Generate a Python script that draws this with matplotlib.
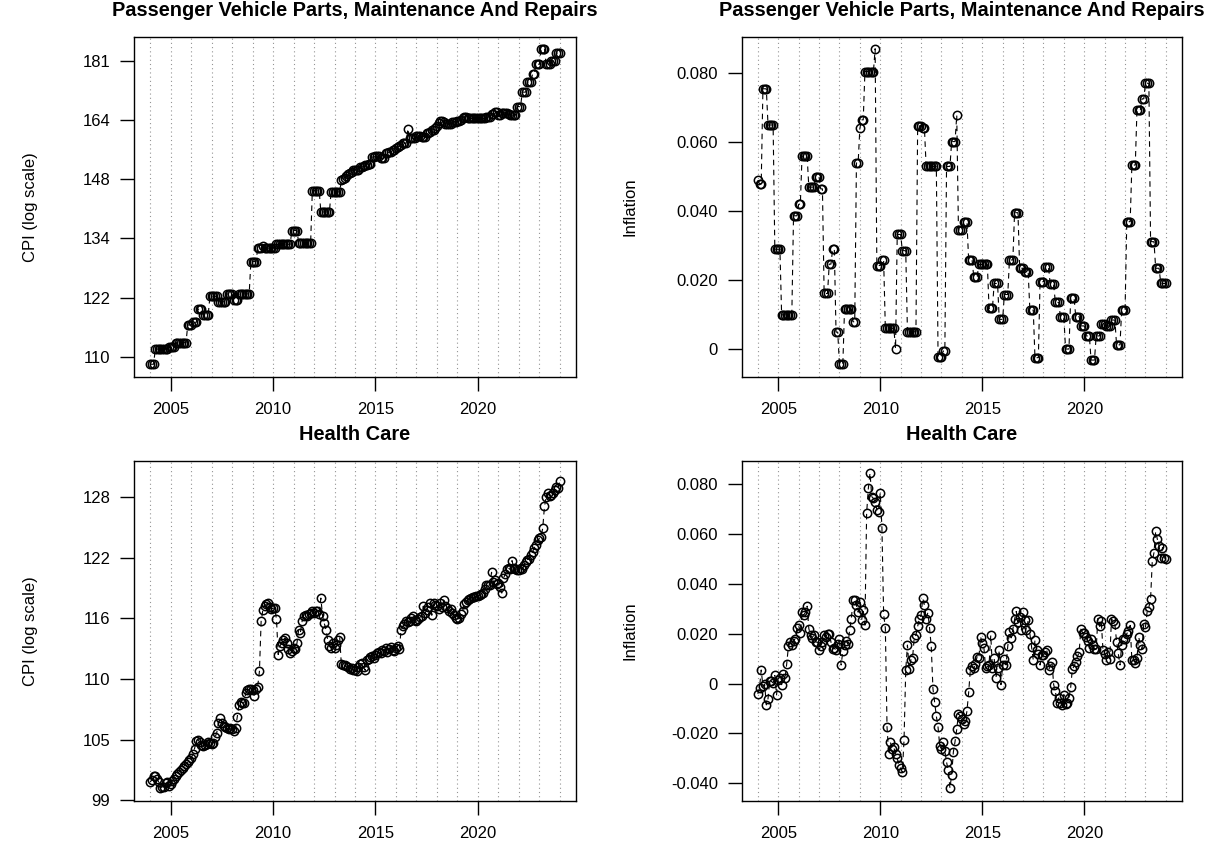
import numpy as np
import matplotlib
matplotlib.use("Agg")
import matplotlib.pyplot as plt
from matplotlib.ticker import FixedLocator, NullLocator

plt.rcParams['font.family'] = ['Liberation Sans', 'DejaVu Sans']

# monthly observations, Jan 2004 .. Jan 2024
start_year = 2004

parts_cpi = [
    108.7, 108.7, 108.7, 111.5, 111.5, 111.5, 111.5, 111.5, 111.5, 111.5, 111.5, 111.8,
    111.8, 111.8, 111.8, 112.7, 112.7, 112.7, 112.7, 112.7, 112.7, 112.7, 116.1, 116.1,
    116.1, 116.6, 116.6, 116.6, 119.2, 119.2, 119.2, 118.1, 118.1, 118.1, 118.1, 121.8,
    121.8, 121.8, 121.8, 121.8, 120.7, 120.7, 120.7, 120.7, 120.7, 122.3, 122.3, 122.3,
    122.3, 121.1, 121.1, 121.1, 122.3, 122.3, 122.3, 122.3, 122.3, 122.3, 122.3, 129.1,
    129.1, 129.1, 129.1, 132.0, 132.0, 132.0, 132.6, 132.0, 132.0, 132.0, 132.0, 132.0,
    132.0, 132.0, 132.9, 132.9, 132.9, 132.9, 132.9, 132.9, 132.9, 132.9, 132.9, 136.0,
    136.0, 136.0, 136.0, 133.2, 133.2, 133.2, 133.2, 133.2, 133.2, 133.2, 133.2, 145.4,
    145.4, 145.4, 145.4, 145.4, 140.3, 140.3, 140.3, 140.3, 140.3, 140.3, 145.1, 145.1,
    145.1, 145.1, 145.1, 145.1, 147.9, 148.3, 148.6, 149.0, 149.4, 149.7, 150.1, 150.5,
    150.5, 150.5, 150.5, 151.4, 151.4, 151.6, 151.8, 151.8, 152.0, 152.0, 153.8, 153.8,
    154.0, 154.0, 154.0, 153.5, 153.5, 153.5, 154.8, 154.8, 155.2, 155.2, 155.6, 155.6,
    156.1, 156.4, 156.7, 157.0, 157.4, 157.4, 157.4, 161.3, 158.7, 158.7, 158.7, 158.7,
    159.4, 159.4, 159.4, 159.2, 159.2, 159.2, 160.1, 160.1, 160.5, 161.0, 161.0, 161.5,
    162.0, 162.8, 163.5, 163.5, 163.0, 162.5, 162.5, 162.6, 162.6, 163.0, 163.2, 163.2,
    163.5, 163.5, 163.8, 164.1, 164.4, 164.4, 164.1, 164.1, 164.1, 164.1, 164.1, 164.1,
    164.1, 164.1, 164.1, 164.1, 164.1, 164.4, 164.4, 164.4, 165.3, 165.3, 166.0, 166.0,
    165.1, 165.1, 165.7, 165.7, 165.7, 165.7, 165.3, 165.0, 165.0, 165.0, 165.0, 167.4,
    167.4, 167.4, 171.5, 171.5, 171.5, 174.4, 174.4, 174.4, 176.7, 176.7, 179.7, 179.7,
    179.7, 184.4, 184.4, 184.4, 179.7, 179.7, 179.7, 180.7, 180.7, 180.7, 183.1, 183.1,
    183.1,
]

parts_infl = [
    0.049, 0.048, 0.048, 0.0755, 0.0755, 0.0755, 0.065, 0.065, 0.065, 0.065, 0.029, 0.029,
    0.029, 0.029, 0.010, 0.010, 0.010, 0.010, 0.010, 0.010, 0.010, 0.0387, 0.0387, 0.0387,
    0.042, 0.042, 0.056, 0.056, 0.056, 0.056, 0.047, 0.047, 0.047, 0.047, 0.050, 0.050,
    0.050, 0.0465, 0.0465, 0.0162, 0.0162, 0.0162, 0.0247, 0.0247, 0.029, 0.029, 0.005, 0.005,
    -0.0043, -0.0043, -0.0043, 0.0117, 0.0117, 0.0117, 0.0117, 0.0117, 0.008, 0.008, 0.054, 0.054,
    0.064, 0.0665, 0.0665, 0.0805, 0.0805, 0.0805, 0.0805, 0.0805, 0.0805, 0.0871, 0.0243, 0.0243,
    0.0243, 0.0259, 0.0259, 0.0061, 0.0061, 0.0061, 0.0061, 0.0061, 0.0061, 0.0002, 0.0333, 0.0333,
    0.0333, 0.0286, 0.0286, 0.0286, 0.0051, 0.0051, 0.0051, 0.0051, 0.0051, 0.0051, 0.0647, 0.0647,
    0.0647, 0.064, 0.064, 0.053, 0.053, 0.053, 0.053, 0.053, 0.053, 0.053, -0.0021, -0.0021,
    -0.0021, -0.0005, -0.0005, 0.053, 0.053, 0.053, 0.0602, 0.0602, 0.0602, 0.0679, 0.0346, 0.0346,
    0.0346, 0.0368, 0.0368, 0.0368, 0.0259, 0.0259, 0.0259, 0.0211, 0.0211, 0.0211, 0.0246, 0.0246,
    0.0246, 0.0246, 0.0246, 0.0246, 0.0119, 0.0119, 0.0119, 0.0191, 0.0191, 0.0191, 0.0087, 0.0087,
    0.0087, 0.0159, 0.0159, 0.0159, 0.0259, 0.0259, 0.0259, 0.0396, 0.0396, 0.0396, 0.0235, 0.0235,
    0.0235, 0.0225, 0.0225, 0.0225, 0.0114, 0.0114, 0.0114, -0.0024, -0.0024, -0.0024, 0.0196, 0.0196,
    0.0196, 0.0238, 0.0238, 0.0238, 0.0188, 0.0188, 0.0188, 0.0136, 0.0136, 0.0136, 0.0093, 0.0093,
    0.0093, 0.0001, 0.0001, 0.0001, 0.0148, 0.0148, 0.0148, 0.0095, 0.0095, 0.0095, 0.0068, 0.0068,
    0.0068, 0.0039, 0.0039, 0.0039, -0.0031, -0.0031, -0.0031, 0.0039, 0.0039, 0.0039, 0.0073, 0.0073,
    0.0073, 0.0068, 0.0068, 0.0068, 0.0085, 0.0085, 0.0085, 0.0013, 0.0013, 0.0013, 0.0114, 0.0114,
    0.0114, 0.037, 0.037, 0.037, 0.0534, 0.0534, 0.0534, 0.0694, 0.0694, 0.0694, 0.0726, 0.0726,
    0.0771, 0.0771, 0.0771, 0.0312, 0.0312, 0.0312, 0.0235, 0.0235, 0.0235, 0.0191, 0.0191, 0.0191,
    0.0191,
]

health_cpi = [
    100.9, 101.1, 101.4, 101.4, 101.2, 100.9, 100.4, 100.5, 100.5, 100.8, 100.9, 100.6,
    100.7, 101.0, 101.2, 101.4, 101.6, 101.8, 101.9, 102.1, 102.3, 102.5, 102.6, 102.8,
    103.0, 103.3, 103.8, 104.5, 104.6, 104.4, 104.1, 104.0, 104.1, 104.2, 104.4, 104.3,
    104.2, 104.3, 104.8, 105.2, 106.1, 106.5, 106.1, 105.8, 105.7, 105.6, 105.5, 105.6,
    105.5, 105.4, 105.6, 106.6, 107.7, 108.0, 107.9, 107.9, 108.8, 109.1, 109.2, 109.2,
    109.1, 108.5, 109.2, 109.4, 110.8, 115.6, 116.7, 117.1, 117.3, 117.4, 117.0, 116.8,
    116.9, 116.9, 115.8, 112.4, 113.2, 113.5, 113.8, 114.0, 113.5, 112.9, 112.5, 112.7,
    113.0, 112.9, 113.5, 114.8, 114.5, 115.6, 116.1, 116.2, 116.1, 116.3, 116.4, 116.6,
    116.4, 116.6, 116.6, 116.3, 117.9, 116.1, 115.4, 114.8, 113.8, 113.2, 113.0, 113.5,
    113.0, 113.3, 113.8, 114.1, 111.5, 111.4, 111.4, 111.3, 111.2, 111.0, 111.1, 110.9,
    110.9, 110.8, 111.2, 111.5, 111.6, 111.2, 110.9, 111.9, 112.0, 112.2, 112.3, 112.1,
    112.4, 112.5, 112.6, 112.5, 112.8, 112.7, 113.0, 112.6, 112.9, 113.1, 112.8, 112.7,
    113.0, 113.2, 112.9, 114.8, 115.1, 115.3, 115.6, 115.5, 115.6, 115.9, 116.1, 115.7,
    115.6, 115.8, 116.0, 116.1, 117.1, 116.4, 116.7, 117.0, 117.4, 116.2, 117.4, 117.2,
    117.1, 116.8, 117.4, 117.0, 117.7, 117.1, 116.9, 116.6, 116.8, 116.4, 116.2, 115.9,
    115.8, 115.9, 116.3, 116.6, 117.3, 117.5, 117.7, 117.8, 117.9, 118.0, 118.0, 118.1,
    118.1, 118.2, 118.3, 118.4, 118.8, 119.2, 119.2, 119.2, 120.5, 119.5, 119.7, 119.3,
    119.4, 119.0, 118.4, 119.9, 120.3, 120.8, 120.9, 120.8, 121.7, 120.9, 120.8, 120.7,
    120.7, 120.9, 120.8, 121.2, 121.6, 121.8, 121.9, 122.3, 122.6, 123.0, 123.3, 123.8,
    124.0, 124.2, 125.1, 127.4, 128.4, 128.9, 128.5, 128.6, 128.9, 129.2, 129.5, 129.4,
    130.2,
]

health_infl = [
    -0.0041, -0.0017, 0.0055, -0.0011, -0.0002, -0.0085, -0.0060, 0.0012, 0.0009, 0.0003, 0.0033, -0.0045,
    0.0016, 0.0021, -0.0004, 0.0038, 0.0023, 0.0080, 0.0150, 0.0166, 0.0155, 0.0172, 0.0181, 0.0224,
    0.0234, 0.0204, 0.0287, 0.0275, 0.0287, 0.0311, 0.0221, 0.0195, 0.0185, 0.0195, 0.0168, 0.0166,
    0.0135, 0.0150, 0.0168, 0.0195, 0.0188, 0.0201, 0.0201, 0.0168, 0.0139, 0.0142, 0.0135, 0.0160,
    0.0181, 0.0075, 0.0130, 0.0155, 0.0171, 0.0158, 0.0215, 0.0261, 0.0334, 0.0334, 0.0314, 0.0287,
    0.0327, 0.0254, 0.0294, 0.0235, 0.0685, 0.0784, 0.0846, 0.0751, 0.0744, 0.0731, 0.0698, 0.0691,
    0.0767, 0.0625, 0.0278, 0.0224, -0.0175, -0.0283, -0.0236, -0.0262, -0.0256, -0.0282, -0.0300, -0.0328,
    -0.0340, -0.0355, -0.0225, 0.0055, 0.0155, 0.0060, 0.0095, 0.0102, 0.0185, 0.0195, 0.0230, 0.0261,
    0.0274, 0.0343, 0.0314, 0.0261, 0.0285, 0.0224, 0.0150, -0.0020, -0.0075, -0.0130, -0.0175, -0.0250,
    -0.0262, -0.0236, -0.0270, -0.0315, -0.0348, -0.0420, -0.0365, -0.0275, -0.0232, -0.0183, -0.0120, -0.0130,
    -0.0143, -0.0160, -0.0150, -0.0110, -0.0035, 0.0055, 0.0069, 0.0062, 0.0080, 0.0109, 0.0102, 0.0188,
    0.0162, 0.0142, 0.0062, 0.0069, 0.0075, 0.0195, 0.0062, 0.0102, 0.0023, 0.0062, 0.0135, -0.0004,
    0.0075, 0.0100, 0.0075, 0.0150, 0.0208, 0.0184, 0.0219, 0.0258, 0.0290, 0.0248, 0.0268, 0.0215,
    0.0287, 0.0255, 0.0215, 0.0254, 0.0200, 0.0148, 0.0095, 0.0175, 0.0135, 0.0120, 0.0075, 0.0115,
    0.0115, 0.0128, 0.0135, 0.0056, 0.0069, 0.0089, -0.0004, -0.0030, -0.0077, -0.0057, -0.0077, -0.0085,
    -0.0044, -0.0080, -0.0077, -0.0057, -0.0015, 0.0060, 0.0069, 0.0089, 0.0110, 0.0128, 0.0219, 0.0205,
    0.0205, 0.0188, 0.0170, 0.0142, 0.0181, 0.0155, 0.0140, 0.0139, 0.0261, 0.0230, 0.0250, 0.0135,
    0.0120, 0.0095, 0.0128, 0.0100, 0.0261, 0.0250, 0.0240, 0.0168, 0.0122, 0.0075, 0.0155, 0.0180,
    0.0181, 0.0201, 0.0210, 0.0234, 0.0095, 0.0095, 0.0085, 0.0102, 0.0188, 0.0155, 0.0140, 0.0241,
    0.0228, 0.0290, 0.0307, 0.0340, 0.0493, 0.0526, 0.0612, 0.0579, 0.0552, 0.0506, 0.0546, 0.0506,
    0.0500,
]

parts_title = "Passenger Vehicle Parts, Maintenance And Repairs"
health_title = "Health Care"
year_ticks = [2005, 2010, 2015, 2020]
parts_cpi_ticks = [110, 121.5, 134.2, 148.2, 163.7, 180.8]
health_cpi_ticks = [99.4, 104.6, 110.1, 115.9, 122.0, 128.4]
parts_infl_ticks = [0, 0.02, 0.04, 0.06, 0.08]
health_infl_ticks = [-0.04, -0.02, 0, 0.02, 0.04, 0.06, 0.08]

dates = start_year + np.arange(len(parts_cpi)) / 12.0

fig = plt.figure(figsize=(12.12, 8.44), dpi=100)

W, H = 1212.0, 844.0
def panel(x0, y0, x1, y1):
    return fig.add_axes([x0 / W, 1 - y1 / H, (x1 - x0) / W, (y1 - y0) / H])

ax_pc = panel(134, 37, 576, 377)
ax_pi = panel(741.7, 37, 1182, 377)
ax_hc = panel(134, 461, 576, 801)
ax_hi = panel(741.7, 461, 1182, 801)


def draw(ax, values, title, ylim, ticks, labels, log=False):
    # light dotted guide at the start of every year
    for yr in range(2004, 2025):
        ax.axvline(yr, color='0.58', lw=0.8, ls=(0, (1, 2.8)), zorder=0)
    ax.plot(dates, values, color='black', lw=0.8, ls=(0, (5, 4)),
            marker='o', ms=6.0, mfc='none', mec='black', mew=1.1)
    if log:
        ax.set_yscale('log')
    ax.set_xlim(2003.21, 2024.79)
    ax.set_ylim(*ylim)
    ax.xaxis.set_major_locator(FixedLocator(year_ticks))
    ax.set_xticklabels([str(y) for y in year_ticks])
    ax.yaxis.set_major_locator(FixedLocator(ticks))
    ax.yaxis.set_minor_locator(NullLocator())
    ax.set_yticklabels(labels)
    ax.tick_params(direction='out', length=10, width=1, labelsize=12, color='black')
    ax.tick_params(axis='x', pad=8)
    ax.tick_params(axis='y', pad=7)
    for s in ax.spines.values():
        s.set_linewidth(1.0)
    ax.set_title(title, fontsize=14.4, fontweight='bold', pad=15)


def infl_labels(ticks):
    return ["0" if t == 0 else f"{t:.3f}" for t in ticks]


draw(ax_pc, parts_cpi, parts_title, (106.4, 188.1), parts_cpi_ticks,
     [str(int(round(t))) for t in parts_cpi_ticks], log=True)
draw(ax_pi, parts_infl, parts_title, (-0.0080, 0.0905), parts_infl_ticks,
     infl_labels(parts_infl_ticks))
draw(ax_hc, health_cpi, health_title, (99.3, 132.4), health_cpi_ticks,
     [str(int(round(t))) for t in health_cpi_ticks], log=True)
draw(ax_hi, health_infl, health_title, (-0.0471, 0.0894), health_infl_ticks,
     infl_labels(health_infl_ticks))

for x, y, txt in [(30, 207, "CPI (log scale)"), (630, 207, "Inflation"),
                  (30, 631, "CPI (log scale)"), (630, 631, "Inflation")]:
    fig.text(x / W, 1 - y / H, txt, rotation=90, ha='center', va='center', fontsize=12)

fig.savefig("out.png", dpi=100)
